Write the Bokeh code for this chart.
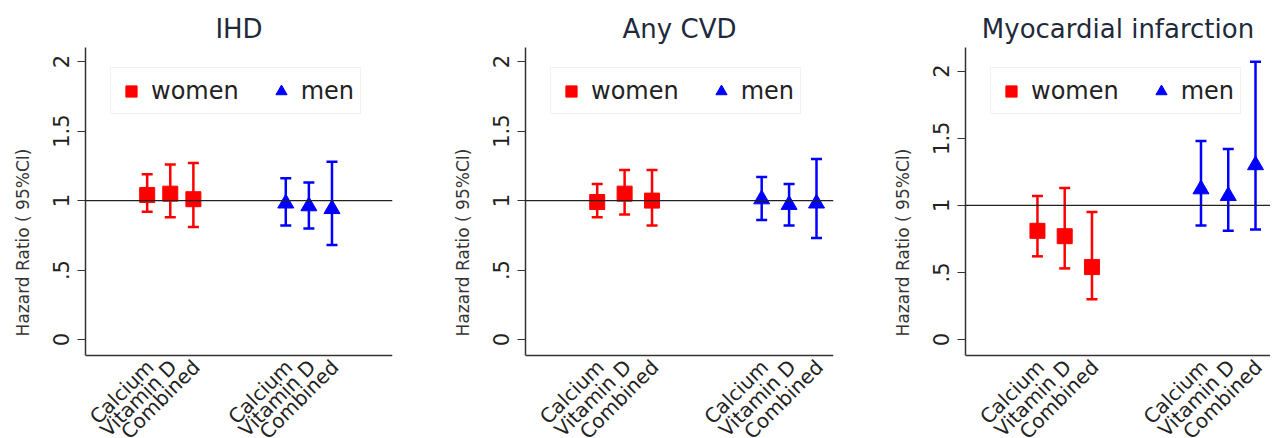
import math
from bokeh.plotting import figure
from bokeh.layouts import row
from bokeh.models import (ColumnDataSource, Whisker, TeeHead, Span, FixedTicker,
                          Legend, LegendItem, Range1d)
from bokeh.core.properties import value
from bokeh.embed import file_html
from bokeh.resources import INLINE

# ---------------- data ----------------
categories = ["Calcium", "Vitamin D", "Combined"]
women_pos = [1, 2, 3]
men_pos = [7, 8, 9]
y_ticks = [0, 0.5, 1, 1.5, 2]
y_tick_labels = ["0", ".5", "1", "1.5", "2"]

panel_titles = ["IHD", "Any CVD", "Myocardial infarction"]

ihd_women_hr = [1.04, 1.05, 1.01]
ihd_women_lo = [0.92, 0.88, 0.81]
ihd_women_hi = [1.19, 1.26, 1.27]
ihd_men_hr = [0.98, 0.96, 0.94]
ihd_men_lo = [0.82, 0.80, 0.68]
ihd_men_hi = [1.16, 1.13, 1.28]

cvd_women_hr = [0.99, 1.05, 1.00]
cvd_women_lo = [0.88, 0.90, 0.82]
cvd_women_hi = [1.12, 1.22, 1.22]
cvd_men_hr = [1.01, 0.97, 0.98]
cvd_men_lo = [0.86, 0.82, 0.73]
cvd_men_hi = [1.17, 1.12, 1.30]

mi_women_hr = [0.81, 0.77, 0.54]
mi_women_lo = [0.62, 0.53, 0.30]
mi_women_hi = [1.07, 1.13, 0.95]
mi_men_hr = [1.12, 1.07, 1.30]
mi_men_lo = [0.85, 0.81, 0.82]
mi_men_hi = [1.48, 1.42, 2.07]

panels = [
    dict(title=panel_titles[0],
         women=(ihd_women_hr, ihd_women_lo, ihd_women_hi),
         men=(ihd_men_hr, ihd_men_lo, ihd_men_hi),
         xr=(-1.67, 11.62), yr=(-0.115, 2.102),
         bl=85, fw=307, br=48),
    dict(title=panel_titles[1],
         women=(cvd_women_hr, cvd_women_lo, cvd_women_hi),
         men=(cvd_men_hr, cvd_men_lo, cvd_men_hi),
         xr=(-1.616, 9.62), yr=(-0.115, 2.102),
         bl=85, fw=308, br=47),
    dict(title=panel_titles[2],
         women=(mi_women_hr, mi_women_lo, mi_women_hi),
         men=(mi_men_hr, mi_men_lo, mi_men_hi),
         xr=(-1.64, 9.55), yr=(-0.119, 2.176),
         bl=85, fw=305, br=0),
]

RED = "#ff0000"
BLUE = "#0000ff"
FONT = "DejaVu Sans"
PLOT_H = 308      # height of the data area (axis to top)
LABEL_H = 82      # room below the x axis for the rotated category labels


def make_panel(cfg):
    y0, y1 = cfg["yr"]
    per_px = (y1 - y0) / PLOT_H
    y_low = y0 - LABEL_H * per_px

    p = figure(frame_width=cfg["fw"], frame_height=PLOT_H + LABEL_H,
               min_border_left=cfg["bl"], min_border_right=cfg["br"],
               min_border_top=47, min_border_bottom=0,
               x_range=Range1d(*cfg["xr"]), y_range=Range1d(y_low, y1),
               output_backend="svg", toolbar_location=None,
               title=cfg["title"])
    p.outline_line_color = None
    p.xgrid.visible = False
    p.ygrid.visible = False
    p.xaxis.visible = False
    p.background_fill_color = "white"
    p.border_fill_color = "white"

    p.title.align = "center"
    p.title.text_font = FONT
    p.title.text_font_size = "26px"
    p.title.text_font_style = "normal"
    p.title.text_color = "#1e2a3c"
    p.title.offset = 0
    p.title.standoff = 8

    # y axis (line limited to the data area)
    ya = p.yaxis[0]
    ya.bounds = (y0, y1)
    ya.ticker = FixedTicker(ticks=y_ticks)
    ya.major_label_overrides = {t: l for t, l in zip(y_ticks, y_tick_labels)}
    ya.major_label_orientation = "vertical"
    ya.major_label_text_font = FONT
    ya.major_label_text_font_size = "21px"
    ya.major_label_text_color = "#222222"
    ya.major_label_standoff = 8
    ya.major_tick_out = 8
    ya.major_tick_in = 0
    ya.minor_tick_line_color = None
    ya.axis_line_color = "#333333"
    ya.axis_line_width = 1.5
    ya.major_tick_line_color = "#333333"
    ya.axis_label = "Hazard Ratio ( 95%CI)"
    ya.axis_label_text_font = FONT
    ya.axis_label_text_font_size = "17px"
    ya.axis_label_text_font_style = "normal"
    ya.axis_label_text_color = "#333333"
    ya.axis_label_standoff = 18

    # x axis line and rotated category labels
    p.add_layout(Span(location=y0, dimension="width", line_color="#333333", line_width=1.5))
    lab_src = ColumnDataSource(dict(x=women_pos + men_pos, y=[y0] * 6,
                                    text=categories + categories))
    p.text(x="x", y="y", text="text", source=lab_src, angle=math.pi / 4,
           text_align="right", text_baseline="middle", x_offset=3, y_offset=8,
           text_font=value(FONT), text_font_size=value("20px"), text_color="#222222")

    p.add_layout(Span(location=1, dimension="width", line_color="#222222", line_width=1.3))

    hr, lo, hi = cfg["women"]
    ws = ColumnDataSource(dict(x=women_pos, hr=hr, lo=lo, hi=hi))
    hr, lo, hi = cfg["men"]
    ms = ColumnDataSource(dict(x=men_pos, hr=hr, lo=lo, hi=hi))

    for src, col in ((ws, RED), (ms, BLUE)):
        w = Whisker(source=src, base="x", upper="hi", lower="lo", dimension="height",
                    line_color=col, line_width=2.5,
                    upper_head=TeeHead(size=11, line_color=col, line_width=2.5),
                    lower_head=TeeHead(size=11, line_color=col, line_width=2.5))
        p.add_layout(w)

    rw = p.scatter("x", "hr", source=ws, marker="square", size=15,
                   fill_color=RED, line_color=RED)
    rm = p.scatter("x", "hr", source=ms, marker="triangle", size=16,
                   fill_color=BLUE, line_color=BLUE)

    leg = Legend(items=[LegendItem(label="women", renderers=[rw]),
                        LegendItem(label="men", renderers=[rm])],
                 orientation="horizontal",
                 location=(25, PLOT_H + LABEL_H - 22 - 45))
    leg.label_text_font = FONT
    leg.label_text_font_size = "24px"
    leg.label_text_color = "#222222"
    leg.glyph_width = 28
    leg.glyph_height = 28
    leg.label_height = 33
    leg.label_standoff = 6
    leg.spacing = 28
    leg.padding = 6
    leg.margin = 0
    leg.border_line_color = "#e6e6e6"
    leg.border_line_width = 1
    leg.background_fill_color = "white"
    leg.background_fill_alpha = 1
    p.add_layout(leg, "center")
    return p


figs = [make_panel(c) for c in panels]
layout = row(*figs)

open("out.html", "w").write(file_html(layout, INLINE))
